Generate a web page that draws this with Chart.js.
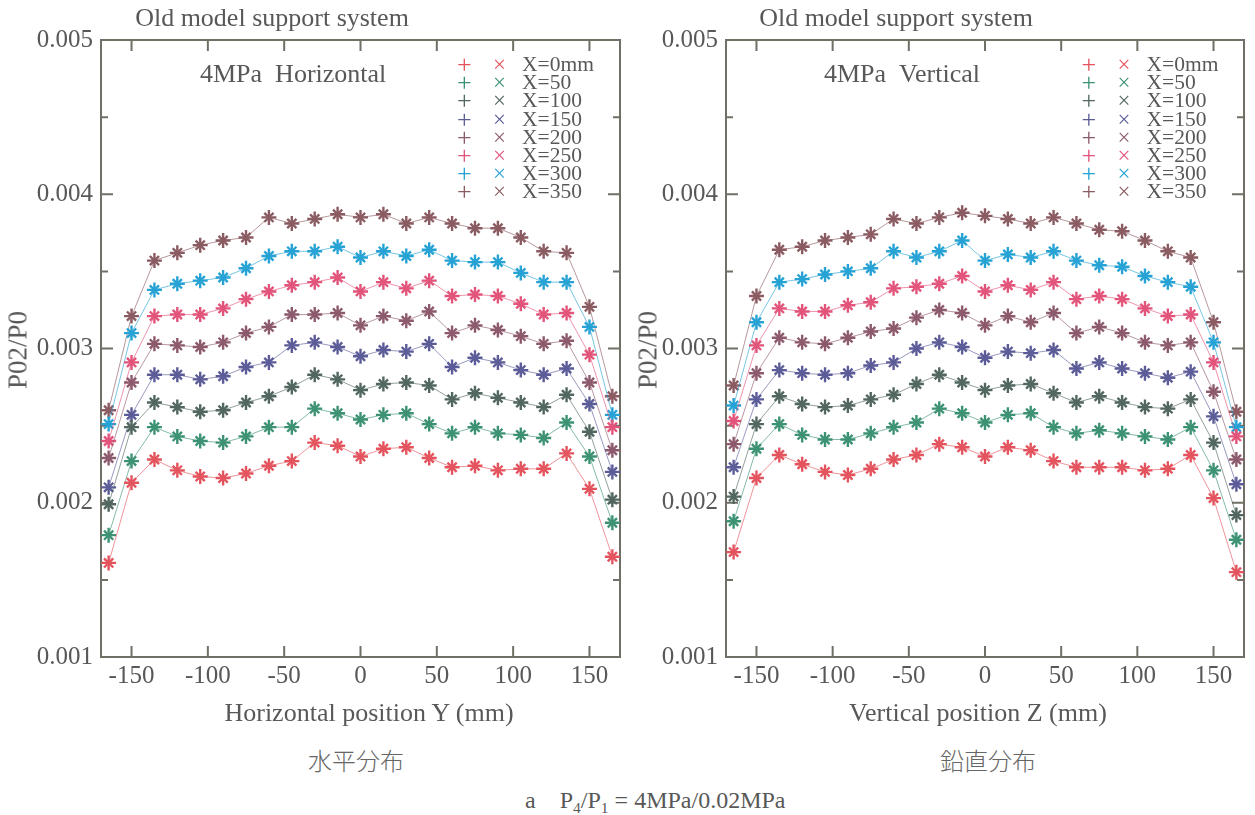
<!DOCTYPE html>
<html>
<head>
<meta charset="utf-8">
<script src="https://cdn.jsdelivr.net/npm/chart.js@4.4.1/dist/chart.umd.min.js"></script>
<style>
  body { margin: 0; background: #fff; width: 1255px; height: 815px; position: relative; overflow: hidden;
         font-family: "Liberation Serif", "DejaVu Serif", serif; color: #585858; }
  canvas { position: absolute; top: 0; }
  .t { position: absolute; white-space: nowrap; line-height: 1; transform: translate(-50%, -50%); }
  .l { position: absolute; white-space: nowrap; line-height: 1; }
  .cjk { font-family: "Noto Sans CJK JP", "Noto Sans CJK SC", sans-serif; font-weight: 300; color: #666; }
  sub { font-size: 0.65em; line-height: 0; vertical-align: -0.3em; }
</style>
</head>
<body>
<canvas id="chartH" width="640" height="700" style="left:0"></canvas>
<canvas id="chartV" width="615" height="700" style="left:640px"></canvas>

<div class="t" style="left:272px;top:18px;font-size:26px">Old model support system</div>
<div class="t" style="left:896px;top:18px;font-size:26px">Old model support system</div>
<div class="l" style="left:200px;top:61px;font-size:26px">4MPa&nbsp;&nbsp;Horizontal</div>
<div class="l" style="left:824px;top:61px;font-size:26px">4MPa&nbsp;&nbsp;Vertical</div>
<div class="t" style="left:18px;top:350px;font-size:27px;transform:translate(-50%,-50%) rotate(-90deg)">P02/P0</div>
<div class="t" style="left:648px;top:350px;font-size:27px;transform:translate(-50%,-50%) rotate(-90deg)">P02/P0</div>
<div class="t" style="left:369px;top:713px;font-size:26px">Horizontal position Y (mm)</div>
<div class="t" style="left:978px;top:713px;font-size:26px">Vertical position Z (mm)</div>
<div class="t cjk" style="left:356px;top:760px;font-size:24px">水平分布</div>
<div class="t cjk" style="left:988px;top:760px;font-size:24px">鉛直分布</div>
<div class="l" style="left:525px;top:788px;font-size:24px">a&nbsp;&nbsp;&nbsp;&nbsp;P<sub>4</sub>/P<sub>1</sub> = 4MPa/0.02MPa</div>
<div id="legends"></div>

<script>
// 위치 (mm)
const positions = [-165, -150, -135, -120, -105, -90, -75, -60, -45, -30, -15, 0, 15, 30, 45, 60, 75, 90, 105, 120, 135, 150, 165];
const xTicks = [-150, -100, -50, 0, 50, 100, 150];
const yMajor = [0.001, 0.002, 0.003, 0.004, 0.005];
const yMinor = [0.0015, 0.0025, 0.0035, 0.0045];

const seriesLabels = ['X=0mm', 'X=50', 'X=100', 'X=150', 'X=200', 'X=250', 'X=300', 'X=350'];
const seriesColors = ['#e4545e', '#3d9273', '#52675f', '#5c5c99', '#8c5a6c', '#e2547a', '#27a2d4', '#8b5b62'];

// P02/P0 x 1000, horizontal
const h0   = [1.61, 2.13, 2.28, 2.21, 2.17, 2.16, 2.19, 2.24, 2.27, 2.39, 2.37, 2.30, 2.35, 2.36, 2.29, 2.23, 2.24, 2.21, 2.22, 2.22, 2.32, 2.09, 1.65];
const h50  = [1.79, 2.27, 2.49, 2.43, 2.40, 2.39, 2.43, 2.49, 2.49, 2.61, 2.58, 2.54, 2.57, 2.58, 2.51, 2.45, 2.49, 2.45, 2.44, 2.42, 2.52, 2.30, 1.87];
const h100 = [1.99, 2.49, 2.65, 2.62, 2.59, 2.60, 2.65, 2.69, 2.75, 2.83, 2.80, 2.73, 2.77, 2.78, 2.76, 2.67, 2.71, 2.68, 2.65, 2.62, 2.70, 2.46, 2.02];
const h150 = [2.10, 2.57, 2.83, 2.83, 2.80, 2.82, 2.88, 2.91, 3.02, 3.04, 3.01, 2.95, 2.99, 2.98, 3.03, 2.88, 2.94, 2.91, 2.86, 2.83, 2.87, 2.64, 2.20];
const h200 = [2.29, 2.78, 3.03, 3.02, 3.01, 3.04, 3.10, 3.14, 3.22, 3.22, 3.23, 3.15, 3.21, 3.18, 3.24, 3.10, 3.15, 3.12, 3.08, 3.03, 3.05, 2.78, 2.34];
const h250 = [2.40, 2.91, 3.21, 3.22, 3.22, 3.26, 3.32, 3.37, 3.41, 3.43, 3.46, 3.37, 3.43, 3.39, 3.44, 3.34, 3.35, 3.34, 3.29, 3.22, 3.23, 2.96, 2.49];
const h300 = [2.51, 3.10, 3.38, 3.42, 3.44, 3.46, 3.52, 3.60, 3.63, 3.63, 3.66, 3.59, 3.63, 3.60, 3.64, 3.57, 3.56, 3.56, 3.49, 3.43, 3.43, 3.14, 2.57];
const h350 = [2.60, 3.21, 3.57, 3.62, 3.67, 3.70, 3.72, 3.85, 3.81, 3.84, 3.87, 3.85, 3.87, 3.81, 3.85, 3.81, 3.78, 3.78, 3.72, 3.63, 3.62, 3.27, 2.69];

// vertical
const v0   = [1.68, 2.16, 2.31, 2.25, 2.20, 2.18, 2.22, 2.28, 2.31, 2.38, 2.36, 2.30, 2.36, 2.34, 2.27, 2.23, 2.23, 2.23, 2.21, 2.22, 2.31, 2.03, 1.55];
const v50  = [1.88, 2.35, 2.51, 2.44, 2.41, 2.41, 2.45, 2.49, 2.52, 2.61, 2.58, 2.52, 2.57, 2.58, 2.49, 2.45, 2.47, 2.45, 2.43, 2.41, 2.49, 2.21, 1.76];
const v100 = [2.04, 2.51, 2.69, 2.64, 2.62, 2.63, 2.67, 2.70, 2.77, 2.83, 2.78, 2.73, 2.76, 2.77, 2.71, 2.65, 2.69, 2.65, 2.62, 2.61, 2.67, 2.39, 1.92];
const v150 = [2.23, 2.67, 2.86, 2.84, 2.83, 2.84, 2.89, 2.91, 3.00, 3.04, 3.01, 2.94, 2.98, 2.97, 2.99, 2.87, 2.91, 2.87, 2.84, 2.81, 2.85, 2.56, 2.12];
const v200 = [2.38, 2.84, 3.07, 3.04, 3.03, 3.07, 3.11, 3.13, 3.20, 3.25, 3.23, 3.15, 3.21, 3.17, 3.23, 3.10, 3.14, 3.10, 3.04, 3.02, 3.04, 2.72, 2.28];
const v250 = [2.53, 3.02, 3.26, 3.24, 3.24, 3.28, 3.30, 3.39, 3.40, 3.42, 3.47, 3.37, 3.41, 3.38, 3.43, 3.32, 3.34, 3.32, 3.26, 3.21, 3.22, 2.91, 2.43];
const v300 = [2.63, 3.17, 3.43, 3.45, 3.48, 3.50, 3.52, 3.63, 3.59, 3.63, 3.70, 3.57, 3.61, 3.59, 3.63, 3.57, 3.54, 3.53, 3.47, 3.43, 3.40, 3.04, 2.49];
const v350 = [2.76, 3.34, 3.64, 3.66, 3.70, 3.72, 3.74, 3.84, 3.81, 3.85, 3.88, 3.86, 3.84, 3.81, 3.85, 3.81, 3.77, 3.76, 3.70, 3.63, 3.59, 3.17, 2.59];

const horizontalData = [h0, h50, h100, h150, h200, h250, h300, h350];
const verticalData = [v0, v50, v100, v150, v200, v250, v300, v350];

const axisColor = '#707066';

let makeDatasets = function (series) {
    let sets = [];
    series.forEach(function (arr, i) {
        let pts = arr.map(function (v, k) { return { x: positions[k], y: v / 1000 }; });
        sets.push({
            data: pts, showLine: true, borderColor: seriesColors[i] + 'a0', borderWidth: 1,
            pointStyle: 'cross', pointRadius: 7.5, pointBorderColor: seriesColors[i], pointBorderWidth: 2.4
        });
        sets.push({
            data: pts, showLine: false,
            pointStyle: 'crossRot', pointRadius: 6.5, pointBorderColor: seriesColors[i], pointBorderWidth: 2.4
        });
    });
    return sets;
};

// inward ticks and frame
let frameTicks = {
    id: 'frameTicks',
    beforeDatasetsDraw: function (chart) {
        let ctx = chart.ctx, a = chart.chartArea, x = chart.scales.x, y = chart.scales.y;
        ctx.save();
        ctx.strokeStyle = axisColor;
        ctx.lineWidth = 2;
        ctx.strokeRect(a.left, a.top, a.right - a.left, a.bottom - a.top);
        ctx.beginPath();
        xTicks.forEach(function (v) {
            let px = x.getPixelForValue(v);
            ctx.moveTo(px, a.bottom); ctx.lineTo(px, a.bottom - 11);
            ctx.moveTo(px, a.top); ctx.lineTo(px, a.top + 11);
        });
        yMajor.concat(yMinor).forEach(function (v) {
            let py = y.getPixelForValue(v);
            let len = yMajor.indexOf(v) >= 0 ? 12 : 7;
            ctx.moveTo(a.left, py); ctx.lineTo(a.left + len, py);
            ctx.moveTo(a.right, py); ctx.lineTo(a.right - len, py);
        });
        ctx.stroke();
        ctx.restore();
    }
};

let drawChart = function (id, series, yWidth, padRight) {
    let ctx = document.getElementById(id).getContext('2d');
    return new Chart(ctx, {
        type: 'scatter',
        data: { datasets: makeDatasets(series) },
        plugins: [frameTicks],
        options: {
            responsive: false,
            animation: false,
            devicePixelRatio: 1,
            events: [],
            layout: { padding: { top: 40, right: padRight, left: 0, bottom: 0 } },
            plugins: { legend: { display: false }, tooltip: { enabled: false } },
            scales: {
                x: {
                    type: 'linear', min: -170, max: 170,
                    afterBuildTicks: function (s) { s.ticks = xTicks.map(function (v) { return { value: v }; }); },
                    afterFit: function (s) { s.height = 43; },
                    grid: { display: false, drawTicks: false }, border: { display: false },
                    ticks: { color: '#585858', padding: 4, maxRotation: 0, autoSkip: false,
                             font: { family: 'Liberation Serif', size: 25 } }
                },
                y: {
                    type: 'linear', min: 0.001, max: 0.005,
                    afterBuildTicks: function (s) { s.ticks = yMajor.map(function (v) { return { value: v }; }); },
                    afterFit: function (s) { s.width = yWidth; },
                    grid: { display: false, drawTicks: false }, border: { display: false },
                    ticks: { color: '#585858', padding: 8, autoSkip: false,
                             callback: function (v) { return v.toFixed(3); },
                             font: { family: 'Liberation Serif', size: 25 } }
                }
            }
        }
    });
};

// legend
let customLegend = function (left, html) {
    seriesLabels.forEach(function (label, i) {
        let top = 65 + i * 18.2;
        html += `<div class="l" style="left:${left - 8}px;top:${top - 13}px;font-size:26px;color:${seriesColors[i]}">+</div>`;
        html += `<div class="l" style="left:${left + 28}px;top:${top - 12}px;font-size:23px;color:${seriesColors[i]}">×</div>`;
        html += `<div class="l" style="left:${left + 57}px;top:${top - 11}px;font-size:21.5px">${label}</div>`;
    });
    return html;
};

window.onload = function () {
    drawChart('chartH', horizontalData, 101, 20);
    drawChart('chartV', verticalData, 86, 11);
    document.getElementById('legends').innerHTML = customLegend(465, '') + customLegend(1089.5, '');
};
</script>
</body>
</html>
